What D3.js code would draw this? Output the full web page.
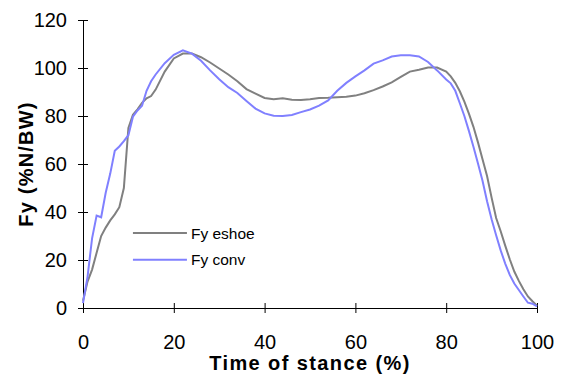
<!DOCTYPE html>
<html>
<head>
<meta charset="utf-8">
<script src="https://cdn.jsdelivr.net/npm/d3@7"></script>
<style>
  body { margin: 0; background: #fff; }
  text { font-family: "Liberation Sans", Arial, sans-serif; fill: #000; }
</style>
</head>
<body>
<div id="chart-area"></div>
<script>
// Data
var stance = [0,1,2,3,4,5,6,7,8,9,10,11,12,13,14,15,16,18,20,22,24,26,28,30,32,34,36,38,40,
    42,44,46,48,50,52,54,56,58,60,62,64,66,68,70,72,74,76,78,80,81,82,83,84,85,86,87,88,89,
    90,91,92,93,94,95,96,97,98,99,100];

var fyEshoe = [3,11,16,23,30,33.5,36.5,39,42,50,75,80.5,82.8,85.5,87.4,88.3,91,98.5,104,106,
    106,104.5,102.3,99.8,97.3,94.5,91.2,89.3,87.5,87,87.4,86.8,86.7,87,87.5,87.6,87.8,88,88.5,
    89.5,90.8,92.3,94,96.3,98.5,99.3,100.2,100.2,98.5,96.5,93.8,90.3,86,81,75.5,69,62,55,
    46,37.5,32,26,20.3,15.2,11.3,7.8,4.8,2.8,1];

var fyConv = [2,13,29,38.5,37.8,48,56,65.5,67.3,69.5,72,79.7,82.3,84.3,90.5,94.5,97.3,102,105.5,
    107.4,106,103,99,95.3,92,89.6,86.3,83.1,81.1,80.1,80,80.4,81.6,82.7,84.3,86.5,90.5,93.8,
    96.5,99,101.8,103.2,104.8,105.3,105.3,104.8,102.5,99,95.2,93.6,90.5,85.3,80,73.8,67.2,
    60.2,53,44.5,37,30.3,24,18.5,13.8,10.2,7.5,4.8,2.2,1.8,0.7];

var xTicks = [0, 20, 40, 60, 80, 100];
var yTicks = [0, 20, 40, 60, 80, 100, 120];
var seriesNames = ["Fy eshoe", "Fy conv"];
var seriesColors = ["#808080", "#8080ff"];

var margin = { left: 83, right: 28, top: 20, bottom: 68 };
var width = 565 - margin.left - margin.right,
    height = 376 - margin.top - margin.bottom;

var svg = d3.select("#chart-area")
    .append("svg")
        .attr("width", 565)
        .attr("height", 376);

var g = svg.append("g")
    .attr("transform", "translate(" + margin.left + "," + margin.top + ")");

// Scales
var x = d3.scaleLinear()
    .domain([0, 100])
    .range([0, width]);

var y = d3.scaleLinear()
    .domain([0, 120])
    .range([height, 0]);

// Axes (ticks crossing the axis line)
var xAxisCall = d3.axisBottom(x)
    .tickValues(xTicks)
    .tickSize(5)
    .tickPadding(22);
var xAxis = g.append("g")
    .attr("transform", "translate(0," + height + ")")
    .call(xAxisCall);

var yAxisCall = d3.axisLeft(y)
    .tickValues(yTicks)
    .tickSize(5)
    .tickPadding(11);
var yAxis = g.append("g")
    .call(yAxisCall);

[xAxis, yAxis].forEach(function(ax) {
    ax.select(".domain").attr("stroke", "#000").attr("stroke-width", 1);
    ax.selectAll(".tick text")
        .attr("font-size", "20px")
        .attr("font-family", "Liberation Sans, Arial, sans-serif");
});
xAxis.selectAll(".tick line").attr("y1", -5).attr("y2", 5).attr("stroke", "#000");
yAxis.selectAll(".tick line").attr("x1", -5).attr("x2", 5).attr("stroke", "#000");
xAxis.selectAll(".tick text").attr("dy", "0.71em");

// Lines
var line = d3.line()
    .x(function(d) { return x(d[0]); })
    .y(function(d) { return y(d[1]); });

[fyEshoe, fyConv].forEach(function(vals, i) {
    var pts = stance.map(function(s, j) { return [s, vals[j]]; });
    g.append("path")
        .datum(pts)
        .attr("fill", "none")
        .attr("stroke", seriesColors[i])
        .attr("stroke-width", 2)
        .attr("d", line);
});

// Legend
var legend = g.append("g")
    .attr("transform", "translate(" + x(11) + "," + y(31.2) + ")");

seriesNames.forEach(function(name, i) {
    var row = legend.append("g")
        .attr("transform", "translate(0," + (i * 26.7) + ")");
    row.append("line")
        .attr("x1", 0)
        .attr("x2", 54)
        .attr("stroke", seriesColors[i])
        .attr("stroke-width", 2);
    row.append("text")
        .attr("x", 58)
        .attr("y", 0)
        .attr("dy", "0.36em")
        .attr("font-size", "15.5px")
        .text(name);
});

// Axis titles
g.append("text")
    .attr("x", width / 2)
    .attr("y", height + 62)
    .attr("text-anchor", "middle")
    .attr("font-size", "20px")
    .attr("font-weight", "bold")
    .attr("letter-spacing", "1.4px")
    .text("Time of stance (%)");

g.append("text")
    .attr("transform", "rotate(-90)")
    .attr("x", -height / 2)
    .attr("y", -50)
    .attr("text-anchor", "middle")
    .attr("font-size", "20px")
    .attr("font-weight", "bold")
    .attr("letter-spacing", "1.2px")
    .text("Fy (%N/BW)");
</script>
</body>
</html>
